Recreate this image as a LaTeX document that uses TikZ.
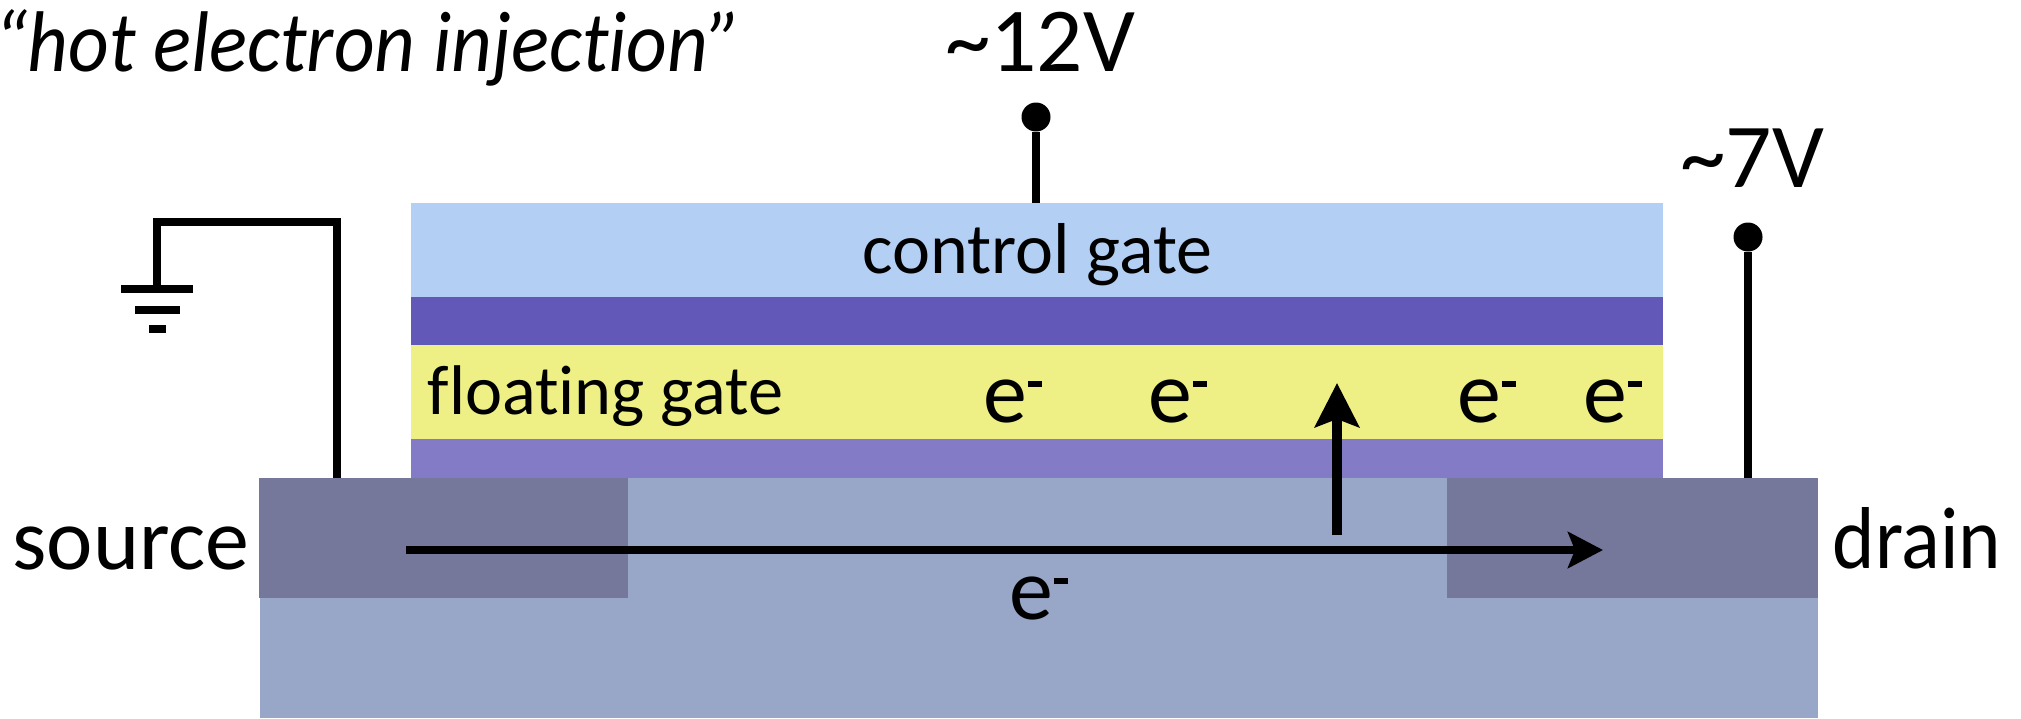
\documentclass[tikz,border=0pt]{standalone}
\usepackage{fontspec}
\setmainfont{Carlito}[Ligatures=CommonOff]
\newfontfamily\narrowfont{Carlito}[Ligatures=CommonOff,FakeStretch=0.92]
\usetikzlibrary{arrows.meta}
\definecolor{gatecol}{HTML}{B3CFF3}
\definecolor{oxidecol}{HTML}{6258B8}
\definecolor{floatcol}{HTML}{EEF086}
\definecolor{tunnelcol}{HTML}{837BC6}
\definecolor{bulkcol}{HTML}{98A6C7}
\definecolor{dopedcol}{HTML}{75779B}
\newcommand{\elec}{e\kern0.005cm\rule[0.35cm]{0.14cm}{0.06cm}}
\tikzset{
  label/.style={font=\fontsize{25}{30}\selectfont, inner sep=0pt, anchor=base},
  layerlabel/.style={label, font=\fontsize{20.5}{25}\selectfont},
  eleclabel/.style={label, anchor=base west},
  wire/.style={line width=0.08cm},
  pin/.style={circle, fill=black, inner sep=0pt, minimum size=0.29cm},
}
\begin{document}
\begin{tikzpicture}
\useasboundingbox (0,0) rectangle (20.21,7.18);

\fill[gatecol] (4.11,4.21) rectangle (16.63,5.15);
\fill[oxidecol] (4.11,3.73) rectangle (16.63,4.21);
\fill[floatcol] (4.11,2.79) rectangle (16.63,3.73);
\fill[tunnelcol] (4.11,2.40) rectangle (16.63,2.79);
\fill[bulkcol] (2.60,0) rectangle (18.18,2.40);
\fill[dopedcol] (2.59,1.20) rectangle (6.28,2.40);
\fill[dopedcol] (14.47,1.20) rectangle (18.18,2.40);

\node[label, anchor=base west, font=\fontsize{24.5}{30}\narrowfont\itshape] (title) at (-0.06,6.47) {“hot electron injection”};
\node[label, font=\fontsize{26}{30}\selectfont] (gatevolt) at (10.40,6.47) {\textasciitilde 12V};
\node[label, font=\fontsize{26}{30}\selectfont] (drainvolt) at (17.52,5.31) {\textasciitilde 7V};
\node[layerlabel] (controllabel) at (10.375,4.45) {control gate};
\node[layerlabel, font=\fontsize{20}{25}\selectfont] (floatlabel) at (6.055,3.04) {floating gate};
\node[label] (sourcelabel) at (1.31,1.49) {source};
\node[label, font=\fontsize{25}{30}\narrowfont] (drainlabel) at (19.17,1.50) {drain};

\node[eleclabel] (efloata) at (9.83,2.96) {\elec};
\node[eleclabel] (efloatb) at (11.48,2.96) {\elec};
\node[eleclabel] (efloatc) at (14.57,2.96) {\elec};
\node[eleclabel] (efloatd) at (15.83,2.96) {\elec};
\node[eleclabel] (echannel) at (10.09,0.99) {\elec};

\node[pin] (gatepin) at (10.36,6.01) {};
\node[pin] (drainpin) at (17.48,4.81) {};
\coordinate (gatetop) at (10.36,5.15);
\coordinate (draintop) at (17.48,2.40);
\draw[wire] (gatepin) -- (gatetop);
\draw[wire] (drainpin) -- (draintop);

\coordinate (sourcetop) at (3.37,2.40);
\coordinate (wirecorner) at (3.37,4.96);
\coordinate (groundtop) at (1.57,4.96);
\coordinate (groundend) at (1.57,4.29);
\draw[wire, line join=miter] (sourcetop) -- (wirecorner) -- (groundtop) -- (groundend);
\fill (1.21,4.25) rectangle (1.93,4.33);
\fill (1.35,4.04) rectangle (1.80,4.12);
\fill (1.49,3.85) rectangle (1.66,3.93);

\coordinate (flowstart) at (4.06,1.68);
\coordinate (flowend) at (16.03,1.68);
\coordinate (hotstart) at (13.37,1.83);
\coordinate (hotend) at (13.37,3.35);
\draw[-{Stealth[length=0.35cm,width=0.36cm,inset=0.07cm]}, line width=0.085cm] (flowstart) -- (flowend);
\draw[-{Stealth[length=0.44cm,width=0.44cm,inset=0.08cm]}, line width=0.105cm] (hotstart) -- (hotend);
\end{tikzpicture}
\end{document}
